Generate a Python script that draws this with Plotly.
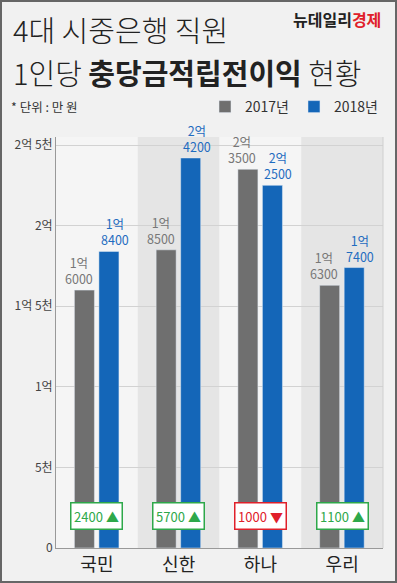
import plotly.graph_objects as go

banks = ["국민", "신한", "하나", "우리"]
v2017 = [16000, 18500, 23500, 16300]
v2018 = [18400, 24200, 22500, 17400]
lab2017 = ["1억<br>6000", "1억<br>8500", "2억<br>3500", "1억<br>6300"]
lab2018 = ["1억<br>8400", "2억<br>4200", "2억<br>2500", "1억<br>7400"]
changes = ["2400 ▲", "5700 ▲", "1000 ▼", "1100 ▲"]
change_up = [True, True, False, True]
ytickvals = [0, 5000, 10000, 15000, 20000, 25000]
yticktext = ["0", "5천", "1억", "1억 5천", "2억", "2억 5천"]

GRAY = "#6f6f6f"
BLUE = "#1466b8"
GRAY_T = "#777777"
BLUE_T = "#1f6cc0"
GREEN = "#2ea84a"
RED = "#e0202a"
FONT = "Noto Sans CJK KR"

fig = go.Figure()
fig.add_trace(go.Bar(x=banks, y=v2017, name="2017년", marker_color=GRAY,
                     width=0.245, offset=-0.275))
fig.add_trace(go.Bar(x=banks, y=v2018, name="2018년", marker_color=BLUE,
                     width=0.245, offset=0.025))

shapes = []
for i in range(len(banks)):
    shapes.append(dict(type="rect", xref="x", yref="paper", x0=i - 0.5, x1=i + 0.5,
                       y0=0, y1=1, fillcolor="#e5e5e5" if i % 2 else "#f5f5f5",
                       line_width=0, layer="below"))
# right plot edge line
shapes.append(dict(type="line", xref="paper", yref="paper", x0=1, x1=1, y0=0, y1=1,
                   line=dict(color="#cfcfcf", width=1)))
# outer border
shapes.append(dict(type="rect", xref="paper", yref="paper",
                   x0=-0.1682, x1=1.0398, y0=-0.0827, y1=1.3309,
                   line=dict(color="#666666", width=2)))

ann = []
for i, b in enumerate(banks):
    ann.append(dict(x=b, y=v2017[i], xref="x", yref="y", text=lab2017[i],
                    showarrow=False, yanchor="bottom", xanchor="right", align="center",
                    xshift=-2, yshift=0,
                    font=dict(family=FONT, size=12.5, color=GRAY_T)))
    ann.append(dict(x=b, y=v2018[i], xref="x", yref="y", text=lab2018[i],
                    showarrow=False, yanchor="bottom", xanchor="left", align="center",
                    xshift=2, yshift=0,
                    font=dict(family=FONT, size=12.5, color=BLUE_T)))
    c = GREEN if change_up[i] else RED
    ann.append(dict(x=b, y=2000, xref="x", yref="y", text=changes[i],
                    showarrow=False, bgcolor="white", bordercolor=c, borderwidth=1.5,
                    width=48, height=23, borderpad=1,
                    font=dict(family=FONT, size=13, color=c)))

ann.append(dict(x=-0.138, y=1.262, xref="paper", yref="paper", xanchor="left",
                yanchor="middle", showarrow=False, text="4대 시중은행 직원",
                font=dict(family=FONT, size=29, color="#222222", weight=300)))
ann.append(dict(x=-0.138, y=1.158, xref="paper", yref="paper", xanchor="left",
                yanchor="middle", showarrow=False,
                text="1인당 <b>충당금적립전이익</b> 현황",
                font=dict(family=FONT, size=29, color="#222222", weight=300)))
ann.append(dict(x=1.0, y=1.286, xref="paper", yref="paper", xanchor="right",
                yanchor="middle", showarrow=False,
                text="<b>뉴데일리<span style='color:#e0202a'>경제</span></b>",
                font=dict(family=FONT, size=16, color="#222222")))
ann.append(dict(x=-0.143, y=1.073, xref="paper", yref="paper", xanchor="left",
                yanchor="middle", showarrow=False, text="* 단위 : 만 원",
                font=dict(family=FONT, size=12.5, color="#333333")))

fig.update_layout(
    width=397, height=583,
    margin=dict(l=56, r=14, t=137, b=35),
    paper_bgcolor="#f1f1f1", plot_bgcolor="#f4f4f4",
    barmode="overlay",
    showlegend=True,
    legend=dict(orientation="h", x=1.0, xanchor="right", y=1.073, yanchor="middle",
                font=dict(family=FONT, size=14, color="#333333"),
                bgcolor="rgba(0,0,0,0)", traceorder="normal"),
    shapes=shapes, annotations=ann,
    xaxis=dict(range=[-0.5, 3.5], showline=True, linecolor="#999999", linewidth=1,
               ticks="", tickfont=dict(family=FONT, size=18, color="#222222"),
               fixedrange=True, automargin=False),
    yaxis=dict(range=[0, 25500], tickvals=ytickvals, ticktext=yticktext,
               showline=True, linecolor="#999999", linewidth=1,
               showgrid=True, gridcolor="#d2d2d2", gridwidth=1, zeroline=False,
               tickfont=dict(family=FONT, size=12, color="#444444"),
               ticks="", fixedrange=True, automargin=False),
)
fig.write_html("out.html", config={"displayModeBar": False},
               post_script="document.body.style.margin='0px';")
